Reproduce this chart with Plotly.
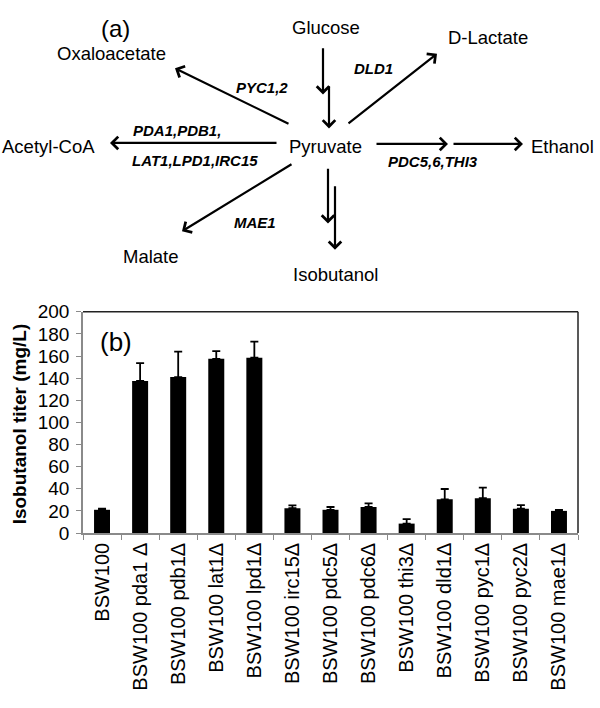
import plotly.graph_objects as go

# ---------------- data (panel b) ----------------
strains = ["BSW100", "BSW100 pda1 Δ", "BSW100 pdb1Δ", "BSW100 lat1Δ", "BSW100 lpd1Δ",
           "BSW100 irc15Δ", "BSW100 pdc5Δ", "BSW100 pdc6Δ", "BSW100 thi3Δ",
           "BSW100 dld1Δ", "BSW100 pyc1Δ", "BSW100 pyc2Δ", "BSW100 mae1Δ"]
titer = [21, 137.5, 141, 157.5, 158.5, 22.5, 21, 23.5, 8.5, 30.5, 31.5, 22, 20]
titer_err = [1, 16, 23, 7, 14.5, 2.5, 2.5, 3.3, 4, 9.3, 9.5, 3.2, 1]
y_ticks = [0, 20, 40, 60, 80, 100, 120, 140, 160, 180, 200]

# ---------------- pathway diagram (panel a) ----------------
metabolites = ["Glucose", "D-Lactate", "Oxaloacetate", "Acetyl-CoA", "Pyruvate",
               "Ethanol", "Malate", "Isobutanol"]
genes = ["PYC1,2", "DLD1", "PDA1,PDB1,", "LAT1,LPD1,IRC15", "PDC5,6,THI3", "MAE1"]

# layout positions (pixel space of the 600x708 canvas)
metab_pos = [(326, 18), (488, 28), (111, 45), (48, 141), (325, 141),
             (562, 141), (151, 254), (335, 273)]
gene_pos = [(262, 80), (373, 60), (177, 124), (195, 155), (433, 156), (255, 219)]
arrows = [  # (tail_x, tail_y, tip_x, tip_y)
    (323, 38, 323, 87), (329, 77, 329, 122),
    (290, 118, 175, 60), (347, 118, 437, 45),
    (278, 137, 110, 137),
    (375, 138, 448, 138), (452, 138, 523, 138),
    (293, 158, 182, 228),
    (328, 162, 328, 220), (335, 180, 335, 247),
]

FONT = "Liberation Sans, Arial, Helvetica, sans-serif"
W, H = 600, 708
# plot area of panel b in pixels
PX0, PX1, PY_TOP, PY_BOT = 83, 578, 311, 539

fig = go.Figure()
fig.add_trace(go.Bar(
    x=strains, y=titer, width=0.42,
    marker=dict(color="black", line=dict(width=0)),
    error_y=dict(type="data", array=titer_err, arrayminus=[0] * len(titer_err),
                 symmetric=False, color="black", thickness=1.8, width=4),
    xaxis="x", yaxis="y", showlegend=False, hoverinfo="skip",
))

annotations = []
for name, (x, y) in zip(metabolites, metab_pos):
    annotations.append(dict(x=x, y=y, xref="x2", yref="y2", text=name, showarrow=False,
                            font=dict(family=FONT, size=18.5, color="black"),
                            xanchor="center", yanchor="middle"))
for name, (x, y) in zip(genes, gene_pos):
    annotations.append(dict(x=x, y=y, xref="x2", yref="y2", text="<b><i>" + name + "</i></b>",
                            showarrow=False, font=dict(family=FONT, size=15, color="black"),
                            xanchor="center", yanchor="middle"))
for (tx, ty, hx, hy) in arrows:
    annotations.append(dict(x=hx, y=hy, ax=tx, ay=ty, xref="x2", yref="y2",
                            axref="x2", ayref="y2", text="", showarrow=True,
                            arrowhead=4, arrowsize=1.1, arrowwidth=2.2, arrowcolor="black",
                            standoff=0, startstandoff=0))
annotations.append(dict(x=115, y=19, xref="x2", yref="y2", text="(a)", showarrow=False,
                        font=dict(family=FONT, size=24, color="black"),
                        xanchor="center", yanchor="middle"))
annotations.append(dict(x=116, y=342, xref="x2", yref="y2", text="(b)", showarrow=False,
                        font=dict(family=FONT, size=26, color="black"),
                        xanchor="center", yanchor="middle"))
annotations.append(dict(x=19, y=427, xref="x2", yref="y2", text="<b>Isobutanol titer (mg/L)</b>",
                        showarrow=False, textangle=-90,
                        font=dict(family=FONT, size=19, color="black"),
                        xanchor="center", yanchor="middle"))

shapes = [
    dict(type="line", xref="x domain", yref="y domain", x0=0, x1=1, y0=1, y1=1,
         line=dict(color="#222222", width=1.5)),
    dict(type="line", xref="x domain", yref="y domain", x0=1, x1=1, y0=0, y1=1,
         line=dict(color="#222222", width=1.5)),
]

fig.update_layout(
    width=W, height=H, margin=dict(l=0, r=0, t=0, b=0),
    paper_bgcolor="white", plot_bgcolor="rgba(0,0,0,0)",
    font=dict(family=FONT, color="black"),
    xaxis=dict(domain=[PX0 / W, PX1 / W], anchor="y", type="category",
               tickangle=-90, tickson="boundaries", ticks="outside", ticklen=5,
               tickcolor="#8a8a8a", showline=True, linecolor="#8a8a8a", linewidth=1.5,
               showgrid=False, tickfont=dict(family=FONT, size=20, color="black"),
               range=[-0.5, len(strains) - 0.5], fixedrange=True),
    yaxis=dict(domain=[(H - PY_BOT) / H, (H - PY_TOP) / H], anchor="x",
               range=[0, 200], tickvals=y_ticks, ticks="outside", ticklen=5,
               tickcolor="#8a8a8a", showline=True, linecolor="#8a8a8a", linewidth=1.5,
               showgrid=False, zeroline=False, fixedrange=True, ticklabelstandoff=3,
               tickfont=dict(family=FONT, size=19, color="black")),
    xaxis2=dict(domain=[0, 1], range=[0, W], visible=False, anchor="y2", fixedrange=True),
    yaxis2=dict(domain=[0, 1], range=[H, 0], visible=False, anchor="x2", fixedrange=True),
    annotations=annotations, shapes=shapes, bargap=0.58,
)

fig.write_html("out.html", config={"displayModeBar": False},
               post_script="document.body.style.margin='0';")
